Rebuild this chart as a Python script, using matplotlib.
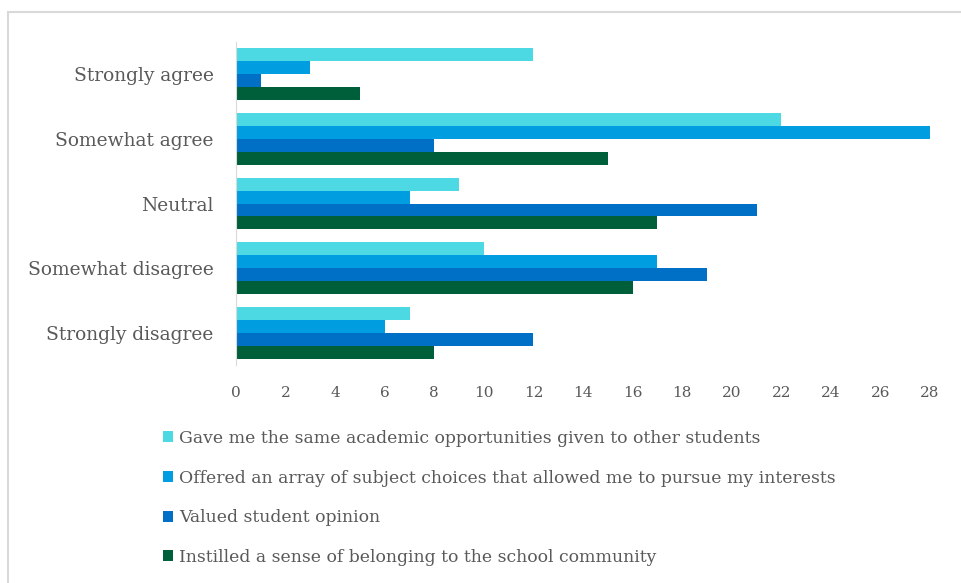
import matplotlib
matplotlib.use("Agg")
import matplotlib.pyplot as plt
from matplotlib.patches import Rectangle, Patch
import numpy as np

plt.rcParams['font.family'] = ['DejaVu Serif', 'Liberation Serif']

categories = ["Strongly agree", "Somewhat agree", "Neutral", "Somewhat disagree", "Strongly disagree"]
series_names = [
    "Gave me the same academic opportunities given to other students",
    "Offered an array of subject choices that allowed me to pursue my interests",
    "Valued student opinion",
    "Instilled a sense of belonging to the school community",
]
same_opportunities = [12, 22, 9, 10, 7]
subject_choices = [3, 28, 7, 17, 6]
valued_opinion = [1, 8, 21, 19, 12]
sense_belonging = [5, 15, 17, 16, 8]
colors = ["#4DD9E3", "#009DE0", "#006FC6", "#005F3B"]
text_color = "#595959"

values = [same_opportunities, subject_choices, valued_opinion, sense_belonging]

fig = plt.figure(figsize=(9.61, 5.83), dpi=100)
ax = fig.add_axes([236 / 961, 1 - 365 / 583, 694 / 961, 323 / 583])

pos = np.arange(len(categories))
bar_h = 0.2
for i, (vals, col) in enumerate(zip(values, colors)):
    ax.barh(pos - 0.3 + i * bar_h, vals, height=bar_h, color=col, label=series_names[i])

ax.set_ylim(len(categories) - 0.5, -0.5)
ax.set_xlim(0, 28)
ax.set_xticks(range(0, 29, 2))
ax.set_yticks(pos)
ax.set_yticklabels(categories, fontsize=13.4, color=text_color)
ax.tick_params(axis='x', length=0, pad=15, labelsize=11, labelcolor=text_color)
ax.tick_params(axis='y', length=0, pad=16)
for s in ['top', 'right', 'bottom']:
    ax.spines[s].set_visible(False)
ax.spines['left'].set_color('#d9d9d9')

handles = [Patch(facecolor=c, edgecolor='none') for c in colors]
fig.legend(handles, series_names, loc='upper left', bbox_to_anchor=(163 / 961, 1 - 430 / 583),
           frameon=False, fontsize=12.4, labelcolor=text_color, handlelength=0.6, handleheight=0.6,
           handletextpad=0.35, labelspacing=1.31, borderaxespad=0, borderpad=0)

# chart area border
fig.patches.append(Rectangle((8 / 961, -0.1), 1.1, 1 - 12 / 583 + 0.1, transform=fig.transFigure,
                             fill=False, edgecolor='#d9d9d9', linewidth=1.5))

fig.savefig("out.png", dpi=100)
